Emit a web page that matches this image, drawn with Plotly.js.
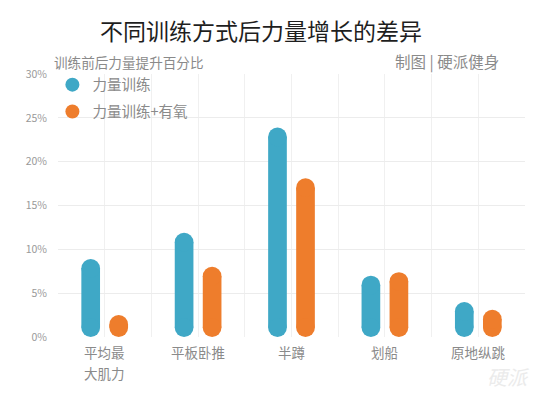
<!DOCTYPE html>
<html>
<head>
<meta charset="utf-8">
<script src="https://cdn.plot.ly/plotly-3.0.1.min.js"></script>
<style>html,body{margin:0;padding:0;background:#fff;}#chart{width:553px;height:393px;}</style>
</head>
<body>
<div id="chart"></div>
<script>
const categories = ['平均最<br>大肌力', '平板卧推', '半蹲', '划船', '原地纵跳'];
const strength = [8.9, 11.9, 23.9, 7.0, 4.0];
const strengthAerobic = [2.5, 8.0, 18.1, 7.4, 3.1];
const seriesNames = ['力量训练', '力量训练+有氧'];
const yTickVals = [0, 5, 10, 15, 20, 25, 30];
const yTickText = ['0%', '5%', '10%', '15%', '20%', '25%', '30%'];

const colors = ['#3fa8c6', '#ee7d2c'];
const font = '"Noto Sans CJK SC", "Noto Sans", sans-serif';

const W = 553, H = 393;
const margin = {l: 58, r: 28, t: 74, b: 56};
const yMax = 30;
const plotW = W - margin.l - margin.r;
const plotH = H - margin.t - margin.b;
const barFrac = 0.2;                      // bar width as fraction of a category
const barPx = plotW / categories.length * barFrac;
const rData = (barPx / 2) / (plotH / yMax); // cap radius in data units

// rounded (pill) bars: thick line between cap centres, plus round caps
function pillBars(vals, color, offset) {
  const xs = [], ys = [];
  vals.forEach((v, i) => {
    xs.push(i + offset, i + offset, null);
    ys.push(rData, Math.max(rData, v - rData), null);
  });
  return {
    type: 'scatter', mode: 'lines+markers', x: xs, y: ys,
    line: {color: color, width: barPx}, connectgaps: false,
    marker: {color: color, size: barPx, symbol: 'circle', line: {width: 0}},
    showlegend: false, hoverinfo: 'skip', cliponaxis: false
  };
}

const data = [
  pillBars(strength, colors[0], -0.15),
  pillBars(strengthAerobic, colors[1], 0.15),
  {type: 'scatter', mode: 'markers', x: [null], y: [null], name: seriesNames[0], legendgroup: 'a',
   marker: {color: colors[0], size: 14, symbol: 'circle'}},
  {type: 'scatter', mode: 'markers', x: [null], y: [null], name: seriesNames[1], legendgroup: 'b',
   marker: {color: colors[1], size: 14, symbol: 'circle'}}
];

const labelAnnotations = [];
categories.forEach((c, i) => {
  c.split('<br>').forEach((line, k) => {
    labelAnnotations.push({text: line, xref: 'x', yref: 'paper', x: i, y: 0,
      xanchor: 'center', yanchor: 'middle', yshift: -15 - 21 * k, showarrow: false,
      font: {size: 13.5, color: '#8a8a8a'}});
  });
});

const layout = {
  width: W, height: H,
  margin: margin,
  paper_bgcolor: '#ffffff', plot_bgcolor: '#ffffff',
  font: {family: font, color: '#888888'},
  title: {text: '不同训练方式后力量增长的差异', x: 0.472, xanchor: 'center', y: 0.919, yanchor: 'middle',
          font: {family: font, size: 23, color: '#1e1e1e'}},
  xaxis: {range: [-0.5, categories.length - 0.5], dtick: 0.5, tick0: -0.5, showgrid: true,
          gridcolor: '#f0f0f0', showticklabels: false, zeroline: false, showline: false, ticks: '',
          fixedrange: true},
  yaxis: {range: [0, yMax], tickvals: yTickVals, ticktext: yTickText, showgrid: true, gridcolor: '#ececec',
          zeroline: false, showline: false, ticks: '', ticklabelstandoff: 10,
          tickfont: {size: 10.5, color: '#999999'}, fixedrange: true},
  legend: {x: -0.012, y: 1.02, xanchor: 'left', yanchor: 'top', bgcolor: 'rgba(0,0,0,0)',
           font: {size: 14.5, color: '#8a8a8a'}, itemwidth: 30, tracegroupgap: 5},
  annotations: [
    {text: '训练前后力量提升百分比', xref: 'paper', yref: 'paper', x: -0.012, y: 1.046,
     xanchor: 'left', yanchor: 'middle', showarrow: false, font: {size: 13.6, color: '#8a8a8a'}},
    {text: '制图 | 硬派健身', xref: 'paper', yref: 'paper', x: 0.948, y: 1.046,
     xanchor: 'right', yanchor: 'middle', showarrow: false, font: {size: 15.5, color: '#8a8a8a'}},
    {text: '<i>硬派</i>', xref: 'paper', yref: 'paper', x: 0.965, y: -0.152,
     xanchor: 'center', yanchor: 'middle', showarrow: false, font: {size: 20, color: '#ebebeb'}},
    ...labelAnnotations
  ]
};

Plotly.newPlot('chart', data, layout, {displayModeBar: false, staticPlot: true});
</script>
</body>
</html>
